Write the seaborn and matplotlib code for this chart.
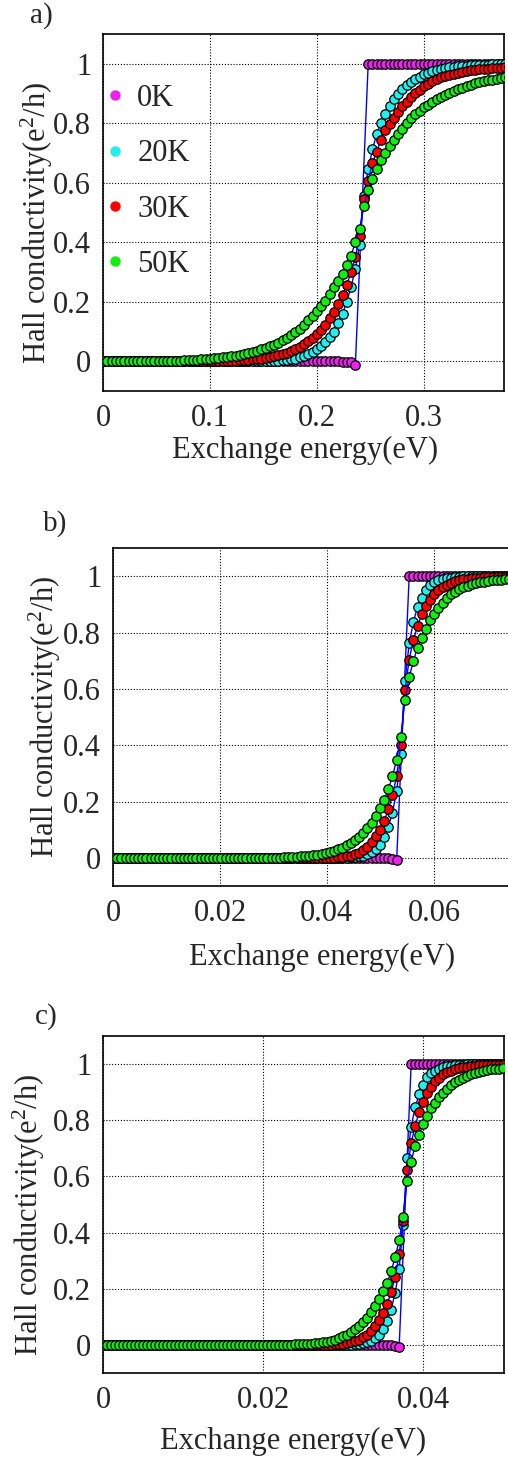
import numpy as np
import pandas as pd
import matplotlib
matplotlib.use("Agg")
import matplotlib.pyplot as plt
import seaborn as sns
from matplotlib.lines import Line2D

sns.set_style("white")
plt.rcParams["font.family"] = ["Liberation Serif", "DejaVu Serif"]
plt.rcParams["mathtext.fontset"] = "custom"
plt.rcParams["mathtext.rm"] = "Liberation Serif"
plt.rcParams["mathtext.default"] = "regular"

# ---------------------------------------------------------------- data
N = 101
nan = np.nan
temps = ["0K", "20K", "30K", "50K"]
colors = ["#ee22ee", "#22eeee", "#ff0000", "#11ee11"]


def lead_zero(tail):
    """Flat zero plateau followed by the listed values."""
    return [0.0] * (N - len(tail)) + tail


# panel a: exchange-energy grid and Hall conductivity per temperature
x_a = np.round(np.arange(N) * 0.004, 6)
sig_a_0K = [0.0] * 56 + [-0.001, -0.002, -0.004, -0.012, nan, nan] + [1.0] * 39
sig_a_20K = lead_zero([
    0.001, 0.002, 0.003, 0.004, 0.006, 0.009, 0.013, 0.018, 0.024, 0.031,
    0.040, 0.050, 0.064, 0.080, 0.100, 0.128, 0.160, 0.200, 0.250, 0.310,
    0.392, 0.554, 0.645, 0.712, 0.765, 0.800, 0.832, 0.858, 0.883, 0.900,
    0.915, 0.928, 0.940, 0.949, 0.957, 0.964, 0.970, 0.975, 0.979, 0.983,
    0.986, 0.988, 0.990, 0.992, 0.993, 0.994, 0.995, 0.996, 0.996, 0.997,
    0.997, 0.998, 0.998, 0.998, 0.999, 0.999, 0.999, 0.999, 0.999, 0.999,
    0.999])
sig_a_30K = lead_zero([
    0.001, 0.001, 0.002, 0.002, 0.003, 0.004, 0.005, 0.006, 0.008, 0.009,
    0.011, 0.014, 0.017, 0.020, 0.024, 0.029, 0.035, 0.041, 0.049, 0.058,
    0.068, 0.078, 0.092, 0.106, 0.123, 0.145, 0.167, 0.193, 0.223, 0.257,
    0.301, 0.350, 0.420, 0.546, 0.607, 0.666, 0.705, 0.745, 0.776, 0.798,
    0.817, 0.838, 0.858, 0.873, 0.888, 0.901, 0.913, 0.924, 0.933, 0.941,
    0.948, 0.954, 0.959, 0.963, 0.967, 0.970, 0.973, 0.976, 0.978, 0.980,
    0.982, 0.983, 0.984, 0.985, 0.986, 0.987, 0.988, 0.989, 0.989, 0.990,
    0.990, 0.991, 0.991])
sig_a_50K = lead_zero([
    0.001, 0.001, 0.002, 0.002, 0.003, 0.003, 0.004, 0.005, 0.006, 0.007,
    0.008, 0.010, 0.011, 0.013, 0.015, 0.017, 0.019, 0.022, 0.025, 0.028,
    0.032, 0.036, 0.040, 0.045, 0.050, 0.056, 0.062, 0.070, 0.078, 0.087,
    0.098, 0.110, 0.123, 0.137, 0.153, 0.170, 0.187, 0.204, 0.226, 0.249,
    0.271, 0.294, 0.325, 0.355, 0.400, 0.445, 0.523, 0.574, 0.613, 0.647,
    0.675, 0.700, 0.725, 0.745, 0.765, 0.781, 0.800, 0.817, 0.830, 0.842,
    0.853, 0.863, 0.872, 0.881, 0.889, 0.896, 0.903, 0.909, 0.915, 0.920,
    0.925, 0.930, 0.934, 0.938, 0.941, 0.944, 0.947, 0.950, 0.952, 0.954,
    0.956, 0.958, 0.960, 0.962, 0.963, 0.965])

# panel b
x_b = np.round(np.arange(N) * 0.00078, 6)
sig_b_0K = [0.0] * 66 + [-0.002, -0.004, -0.008, nan, nan] + [1.0] * 30
sig_b_20K = lead_zero([
    0.001, 0.002, 0.003, 0.005, 0.008, 0.013, 0.020, 0.032, 0.047, 0.075,
    0.110, 0.160, 0.237, 0.370, 0.627, 0.761, 0.837, 0.891, 0.923, 0.950,
    0.967, 0.978, 0.985, 0.990, 0.993, 0.995, 0.997, 0.998] + [0.999] * 17)
sig_b_30K = lead_zero([
    0.001, 0.002, 0.003, 0.005, 0.008, 0.012, 0.018, 0.027, 0.039, 0.056,
    0.077, 0.100, 0.130, 0.172, 0.222, 0.292, 0.400, 0.595, 0.704, 0.773,
    0.822, 0.864, 0.894, 0.917, 0.935, 0.950, 0.961, 0.970, 0.977, 0.982,
    0.986, 0.989, 0.991, 0.993, 0.994, 0.995, 0.996, 0.996, 0.997, 0.997,
    0.998, 0.998, 0.998, 0.999, 0.999, 0.999, 0.999, 0.999])
sig_b_50K = lead_zero([
    0.001, 0.001, 0.002, 0.002, 0.003, 0.004, 0.005, 0.006, 0.007, 0.009,
    0.011, 0.013, 0.016, 0.020, 0.024, 0.030, 0.036, 0.044, 0.053, 0.065,
    0.075, 0.089, 0.107, 0.124, 0.150, 0.177, 0.205, 0.243, 0.290, 0.349,
    0.430, 0.562, 0.641, 0.699, 0.746, 0.781, 0.813, 0.844, 0.864, 0.888,
    0.905, 0.921, 0.935, 0.945, 0.953, 0.960, 0.966, 0.971, 0.975, 0.978,
    0.981, 0.983, 0.985, 0.987, 0.988, 0.989, 0.990, 0.991, 0.992, 0.992,
    0.993, 0.993])

# panel c
x_c = np.round(np.arange(N) * 0.0005, 6)
sig_c_0K = [0.0] * 72 + [-0.002, -0.004, -0.008, nan, nan] + [1.0] * 24
sig_c_20K = lead_zero([
    0.001, 0.002, 0.004, 0.006, 0.009, 0.015, 0.025, 0.037, 0.057, 0.084,
    0.126, 0.185, 0.270, 0.428, 0.665, 0.777, 0.846, 0.893, 0.925, 0.953,
    0.967, 0.977, 0.984, 0.989, 0.992, 0.994, 0.996, 0.997, 0.998] + [0.999] * 10)
sig_c_30K = lead_zero([
    0.001, 0.002, 0.003, 0.004, 0.006, 0.009, 0.013, 0.019, 0.027, 0.037,
    0.049, 0.066, 0.088, 0.112, 0.146, 0.187, 0.242, 0.323, 0.440, 0.623,
    0.718, 0.780, 0.830, 0.866, 0.896, 0.919, 0.938, 0.952, 0.963, 0.971,
    0.977, 0.982, 0.986, 0.989, 0.991, 0.993, 0.994, 0.995, 0.996, 0.997,
    0.997, 0.998, 0.998, 0.998])
sig_c_50K = lead_zero([
    0.001, 0.001, 0.002, 0.002, 0.003, 0.004, 0.005, 0.006, 0.008, 0.010,
    0.012, 0.015, 0.019, 0.025, 0.031, 0.037, 0.045, 0.055, 0.066, 0.081,
    0.096, 0.116, 0.137, 0.164, 0.191, 0.220, 0.262, 0.312, 0.372, 0.457,
    0.585, 0.653, 0.709, 0.748, 0.787, 0.815, 0.842, 0.863, 0.884, 0.898,
    0.910, 0.925, 0.935, 0.944, 0.952, 0.958, 0.964, 0.968, 0.972, 0.976,
    0.978, 0.981, 0.983, 0.984, 0.986])

panels = [
    dict(tag="a)", x=x_a, series=[sig_a_0K, sig_a_20K, sig_a_30K, sig_a_50K],
         xticks=[0, 0.1, 0.2, 0.3], xticklabels=["0", "0.1", "0.2", "0.3"]),
    dict(tag="b)", x=x_b, series=[sig_b_0K, sig_b_20K, sig_b_30K, sig_b_50K],
         xticks=[0, 0.02, 0.04, 0.06], xticklabels=["0", "0.02", "0.04", "0.06"]),
    dict(tag="c)", x=x_c, series=[sig_c_0K, sig_c_20K, sig_c_30K, sig_c_50K],
         xticks=[0, 0.02, 0.04], xticklabels=["0", "0.02", "0.04"]),
]
yticks = [0, 0.2, 0.4, 0.6, 0.8, 1]
yticklabels = ["0", "0.2", "0.4", "0.6", "0.8", "1"]

# ---------------------------------------------------------------- layout (pixels)
W, H = 508, 1458
fig = plt.figure(figsize=(W / 100, H / 100), dpi=100)


def fx(px):
    return px / W


def fy(py):
    return 1 - py / H


# (left, right, top, bottom, xmax) in pixels / data
boxes = [
    (103, 504, 34, 391, 0.375),
    (113, 520, 548, 886, 0.0761),
    (103, 504, 1036, 1373, 0.0501),
]
xlabel_pos = [(305, 458), (322, 965), (293, 1449)]
ylabel_pos = [(37, 223), (45, 717), (29, 1215)]
tag_pos = [(30, 16), (43, 524), (35, 1017)]

TICK_FS = 22
LABEL_FS = 22

for k, (p, (l, r, t, b, xmax)) in enumerate(zip(panels, boxes)):
    ax = fig.add_axes([fx(l), fy(b), (r - l) / W, (b - t) / H])
    for j, (lab, sig, col) in enumerate(zip(temps, p["series"], colors)):
        df = pd.DataFrame({"x": p["x"], "y": sig}).dropna()
        sns.lineplot(data=df, x="x", y="y", ax=ax, color="#0000ff", lw=1.0,
                     sort=False, estimator=None, legend=False, zorder=2 + 2 * j)
        sns.scatterplot(data=df, x="x", y="y", ax=ax, color=col, s=46,
                        edgecolor="black", linewidth=0.9, legend=False,
                        zorder=3 + 2 * j)
    ax.set_xlim(0, xmax)
    ax.set_ylim(-0.1, 1.1)
    ax.set_xticks(p["xticks"])
    ax.set_xticklabels(p["xticklabels"])
    ax.set_yticks(yticks)
    ax.set_yticklabels(yticklabels)
    ax.set_xlabel("")
    ax.set_ylabel("")
    ax.tick_params(axis="both", length=0, labelsize=TICK_FS)
    ax.tick_params(axis="y", pad=8.5)
    ax.tick_params(axis="x", pad=9)
    ax.grid(True, color="black", lw=0.8, ls=(0, (1, 1.6)))
    for s in ax.spines.values():
        s.set_color("black")
        s.set_linewidth(1.2)

    fig.text(fx(xlabel_pos[k][0]), fy(xlabel_pos[k][1]), "Exchange energy(eV)",
             ha="center", va="baseline", fontsize=LABEL_FS)
    fig.text(fx(ylabel_pos[k][0]), fy(ylabel_pos[k][1]),
             "Hall conductivity(e$^{2}$/h)", rotation=90,
             ha="center", va="center", fontsize=LABEL_FS)
    fig.text(fx(tag_pos[k][0]), fy(tag_pos[k][1]), p["tag"],
             ha="left", va="center", fontsize=21)

    if k == 0:
        handles = [Line2D([], [], ls="", marker="o", markersize=7.5,
                          markerfacecolor=c, markeredgecolor="none")
                   for c in colors]
        ax.legend(handles, temps, loc="upper left",
                  bbox_to_anchor=(fx(102), fy(84)),
                  bbox_transform=fig.transFigure, frameon=False,
                  fontsize=22, labelspacing=0.86, handlelength=0.85,
                  handletextpad=0.3, borderpad=0, borderaxespad=0)

fig.savefig("out.png", dpi=100)
